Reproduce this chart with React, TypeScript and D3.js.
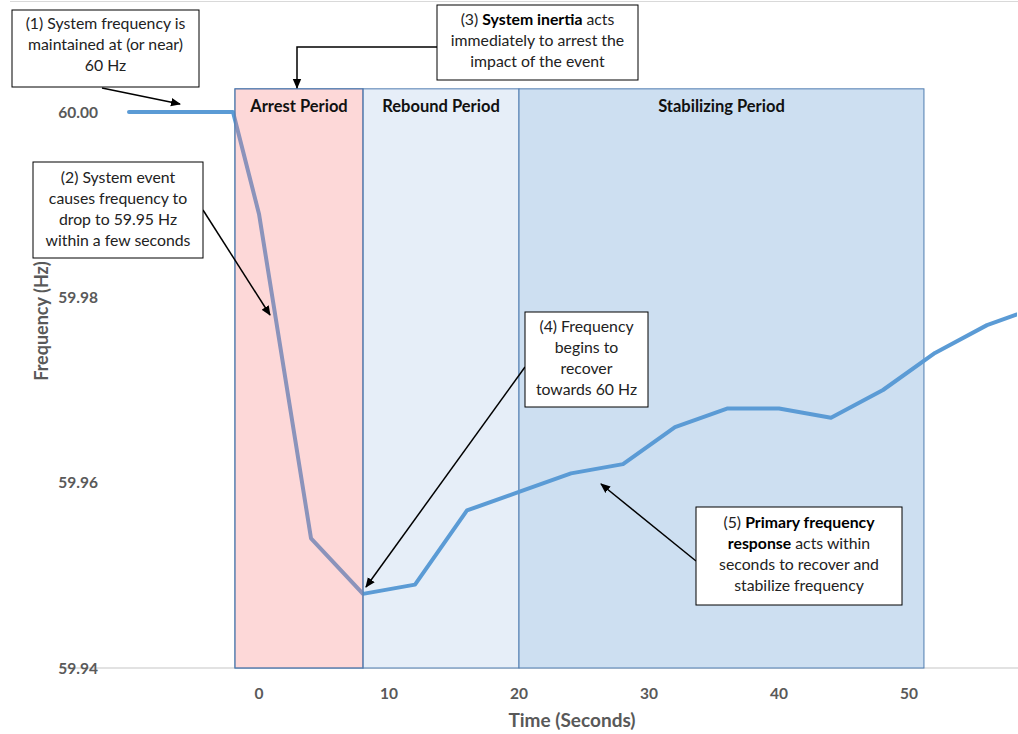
import React from "react";
import * as d3 from "d3";

const times = [-10, -6, -2, 0, 4, 8, 12, 16, 20, 24, 28, 32, 36, 40, 44, 48, 52, 56, 60];
const freq = [60, 60, 60, 59.989, 59.954, 59.948, 59.949, 59.957, 59.959, 59.961, 59.962, 59.966, 59.968, 59.968, 59.967, 59.97, 59.974, 59.977, 59.979];
const xTicks = [0, 10, 20, 30, 40, 50];
const yTicks = [59.94, 59.96, 59.98, 60.0];
const periodNames = ["Arrest Period", "Rebound Period", "Stabilizing Period"];
const periodStart = [-1.85, 8, 20];
const periodEnd = [8, 20, 51.15];
const periodTop = 60.0025;

type Seg = { t: string; b?: boolean };
const notes: { lines: Seg[][] }[] = [
  { lines: [[{ t: "(1) System frequency is" }], [{ t: "maintained at (or near)" }], [{ t: "60 Hz" }]] },
  { lines: [[{ t: "(2) System event" }], [{ t: "causes frequency to" }], [{ t: "drop to 59.95 Hz" }], [{ t: "within a few seconds" }]] },
  { lines: [[{ t: "(3) " }, { t: "System inertia", b: true }, { t: " acts" }], [{ t: "immediately to arrest the" }], [{ t: "impact of the event" }]] },
  { lines: [[{ t: "(4) Frequency" }], [{ t: "begins to" }], [{ t: "recover" }], [{ t: "towards 60 Hz" }]] },
  { lines: [[{ t: "(5) " }, { t: "Primary frequency", b: true }], [{ t: "response", b: true }, { t: " acts within" }], [{ t: "seconds to recover and" }], [{ t: "stabilize frequency" }]] },
];

// layout (pixels)
const boxes = [
  { x: 12, y: 10, w: 187, h: 77, ty: 29 },
  { x: 33, y: 162, w: 170, h: 96, ty: 183 },
  { x: 437, y: 5, w: 201, h: 75, ty: 25 },
  { x: 525, y: 312, w: 123, h: 95, ty: 332 },
  { x: 696, y: 507, w: 206, h: 98, ty: 528 },
];

const W = 1018;
const H = 734;
const FONT = "Lato, 'Open Sans', sans-serif";

export default function App() {
  const x = d3.scaleLinear().domain([0, 50]).range([259, 909]);
  const y = d3.scaleLinear().domain([59.94, 60]).range([668, 112]);
  const pts: [number, number][] = times.map((t, i) => [x(t), y(freq[i])]);
  const line = d3.line<[number, number]>().x((d) => d[0]).y((d) => d[1]);
  const colors = ["#ffd7d7", "#e6eef8", "#cddff1"];
  const arrows = [
    { pts: [[102, 88], [180, 104]] },
    { pts: [[203, 210], [270, 315]] },
    { pts: [[437, 47], [297, 47], [297, 88]] },
    { pts: [[525, 367], [366, 587]] },
    { pts: [[696, 561], [601, 484]] },
  ];
  return (
    <div style={{ position: "absolute", left: 0, top: 0 }}>
      <svg width={W} height={H} style={{ display: "block", background: "#fff" }}>
        <defs>
          <marker id="ah" viewBox="0 0 10 10" refX="9" refY="5" markerWidth="10" markerHeight="10" markerUnits="userSpaceOnUse" orient="auto">
            <path d="M0,0.8 L10,5 L0,9.2 Z" fill="#000" />
          </marker>
          <clipPath id="plot">
            <rect x={0} y={0} width={1017} height={H} />
          </clipPath>
        </defs>
        <line x1={10} x2={W} y1={1.5} y2={1.5} stroke="#d9d9d9" strokeWidth={1} />
        <line x1={60} x2={W} y1={y(59.94)} y2={y(59.94)} stroke="#d9d9d9" strokeWidth={1.5} />
        {periodNames.map((n, i) => (
          <rect
            key={n}
            x={x(periodStart[i])}
            y={y(periodTop)}
            width={x(periodEnd[i]) - x(periodStart[i])}
            height={y(59.94) - y(periodTop)}
            fill={i === 0 ? "#ffffff" : colors[i]}
            stroke="#4f7cb0"
            strokeWidth={1}
          />
        ))}
        <path d={line(pts) || ""} fill="none" stroke="#5b9bd5" strokeWidth={4} strokeLinejoin="round" strokeLinecap="round" clipPath="url(#plot)" />
        <rect
          x={x(periodStart[0])}
          y={y(periodTop)}
          width={x(periodEnd[0]) - x(periodStart[0])}
          height={y(59.94) - y(periodTop)}
          fill="rgb(248,129,129)"
          fillOpacity={0.31}
          stroke="#4f7cb0"
          strokeWidth={1}
        />
        {periodNames.map((n, i) => (
          <text
            key={n + "l"}
            x={(x(periodStart[i]) + x(periodEnd[i])) / 2}
            y={112}
            textAnchor="middle"
            fontFamily={FONT}
            fontWeight="bold"
            fontSize={16.5}
            fill="#111"
          >
            {n}
          </text>
        ))}
        {yTicks.map((v) => (
          <text key={v} x={98} y={y(v) + 5.5} textAnchor="end" fontFamily={FONT} fontWeight="bold" fontSize={15.5} fill="#595959">
            {d3.format(".2f")(v)}
          </text>
        ))}
        {xTicks.map((v) => (
          <text key={v} x={x(v)} y={699} textAnchor="middle" fontFamily={FONT} fontWeight="bold" fontSize={15.5} fill="#595959">
            {v}
          </text>
        ))}
        <text x={572} y={727} textAnchor="middle" fontFamily={FONT} fontWeight="bold" fontSize={19} fill="#595959">
          Time (Seconds)
        </text>
        {arrows.map((a, i) => (
          <polyline
            key={"a" + i}
            points={a.pts.map((p) => p.join(",")).join(" ")}
            fill="none"
            stroke="#000"
            strokeWidth={1.5}
            markerEnd="url(#ah)"
          />
        ))}
        {notes.map((nt, i) => {
          const b = boxes[i];
          return (
            <g key={"n" + i}>
              <rect x={b.x} y={b.y} width={b.w} height={b.h} fill="#fff" stroke="#000" strokeWidth={1} />
              {nt.lines.map((ln, j) => (
                <text
                  key={j}
                  x={b.x + b.w / 2}
                  y={b.ty + j * 21}
                  textAnchor="middle"
                  fontFamily={FONT}
                  fontSize={15.8}
                  fill="#222"
                >
                  {ln.map((s, k) => (
                    <tspan key={k} fontWeight={s.b ? "bold" : "normal"} fill={s.b ? "#000" : "#222"}>
                      {s.t}
                    </tspan>
                  ))}
                </text>
              ))}
            </g>
          );
        })}
        <text
          transform="translate(48,321) rotate(-90)"
          textAnchor="middle"
          fontFamily={FONT}
          fontWeight="bold"
          fontSize={18}
          fill="#595959"
        >
          Frequency (Hz)
        </text>
      </svg>
    </div>
  );
}
